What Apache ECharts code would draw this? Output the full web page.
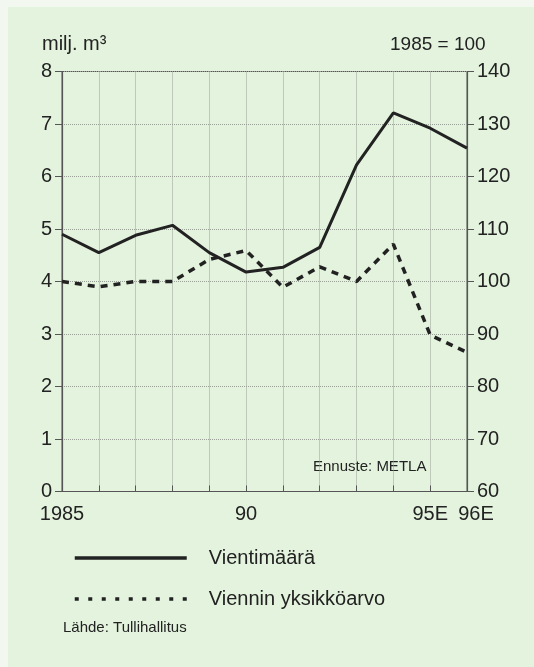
<!DOCTYPE html>
<html>
<head>
<meta charset="utf-8">
<script src="https://cdn.jsdelivr.net/npm/echarts@6/dist/echarts.min.js"></script>
<style>
    body { margin: 0; background: #f2f8f0; }
    #bg { position: absolute; left: 8px; top: 7px; width: 526px; height: 660px; background: #e3f3dd; }
    #chart { position: absolute; left: 0; top: 0; width: 534px; height: 667px; }
</style>
</head>
<body>
<div id="bg"></div>
<div id="chart"></div>
<script>
// years on the x axis, and which of them get a printed label
const years = ["1985", "1986", "1987", "1988", "1989", "1990", "1991", "1992", "1993", "1994", "95E", "96E"];
const yearLabels = ["1985", "", "", "", "", "90", "", "", "", "", "95E", "96E"];

// export volume, million m3 (left axis)
const volume = [4.9, 4.55, 4.88, 5.07, 4.55, 4.18, 4.27, 4.65, 6.22, 7.21, 6.92, 6.54];
// export unit value, 1985 = 100 (right axis)
const unitValue = [100, 99, 100, 100, 104.2, 105.9, 98.9, 102.8, 100, 107.1, 89.8, 86.5];

const leftTicks = [0, 8, 1];
const rightTicks = [60, 140, 10];

const font = "Liberation Sans, Arial, sans-serif";
const ink = "#222";
const axisColor = "#555";
const gridColor = "#9aa097";

const chart = echarts.init(document.getElementById("chart"));

chart.setOption({
    animation: false,
    textStyle: { fontFamily: font },
    grid: {
        left: 62,
        right: 67,
        top: 71.5,
        bottom: 175.5,
        show: true,
        borderColor: axisColor,
        borderWidth: 1,
    },
    legend: {
        orient: "vertical",
        left: 73,
        top: 548,
        padding: 0,
        itemWidth: 112,
        itemHeight: 20,
        itemGap: 21,
        itemStyle: { opacity: 0 },
        textStyle: {
            fontFamily: font,
            fontSize: 20,
            color: ink,
            padding: [0, 0, 0, 17],
        },
        data: [
            { name: "Vientimäärä", lineStyle: { width: 3.5, type: "solid" } },
            { name: "Viennin yksikköarvo", lineStyle: { width: 3.5, type: [4, 9.5] } },
        ],
    },
    xAxis: {
        type: "category",
        data: years,
        boundaryGap: false,
        axisLine: { lineStyle: { color: axisColor, width: 1.2 } },
        axisTick: { inside: true, length: 6, interval: 0, lineStyle: { color: axisColor } },
        axisLabel: {
            interval: 0,
            margin: 13,
            fontSize: 20,
            color: ink,
            formatter: (v, i) => (i === 11 ? "{s|" + yearLabels[i] + "}" : yearLabels[i]),
            rich: { s: { fontSize: 20, color: ink, fontFamily: font, padding: [0, 0, 0, 18] } },
        },
        splitLine: { show: true, lineStyle: { color: gridColor, type: "dotted", width: 1 } },
    },
    yAxis: [
        {
            type: "value",
            min: leftTicks[0],
            max: leftTicks[1],
            interval: leftTicks[2],
            axisLine: { show: true, lineStyle: { color: axisColor, width: 1.2 } },
            axisTick: { show: true, length: 7, lineStyle: { color: axisColor } },
            axisLabel: { margin: 10, fontSize: 20, color: ink },
            splitLine: { show: true, lineStyle: { color: gridColor, type: "dotted", width: 1 } },
        },
        {
            type: "value",
            position: "right",
            min: rightTicks[0],
            max: rightTicks[1],
            interval: rightTicks[2],
            axisLine: { show: true, lineStyle: { color: axisColor, width: 1.2 } },
            axisTick: { show: true, length: 7, lineStyle: { color: axisColor } },
            axisLabel: { margin: 10, fontSize: 20, color: ink },
            splitLine: { show: false },
        },
    ],
    graphic: [
        {
            type: "text",
            left: 42,
            top: 34,
            style: { text: "milj. m³", font: "20px " + font, fill: ink },
        },
        {
            type: "text",
            left: 390,
            top: 35,
            style: { text: "1985 = 100", font: "19px " + font, fill: ink },
        },
        {
            type: "text",
            left: 313,
            top: 459,
            style: { text: "Ennuste: METLA", font: "15px " + font, fill: ink },
        },
        {
            type: "text",
            left: 63,
            top: 620,
            style: { text: "Lähde: Tullihallitus", font: "15px " + font, fill: ink },
        },
    ],
    series: [
        {
            name: "Vientimäärä",
            type: "line",
            yAxisIndex: 0,
            data: volume,
            symbol: "none",
            lineStyle: { color: ink, width: 3 },
            itemStyle: { color: ink },
            z: 3,
        },
        {
            name: "Viennin yksikköarvo",
            type: "line",
            yAxisIndex: 1,
            data: unitValue,
            symbol: "none",
            lineStyle: { color: ink, width: 3.5, type: [7, 6] },
            itemStyle: { color: ink },
            z: 3,
        },
    ],
});
</script>
</body>
</html>
